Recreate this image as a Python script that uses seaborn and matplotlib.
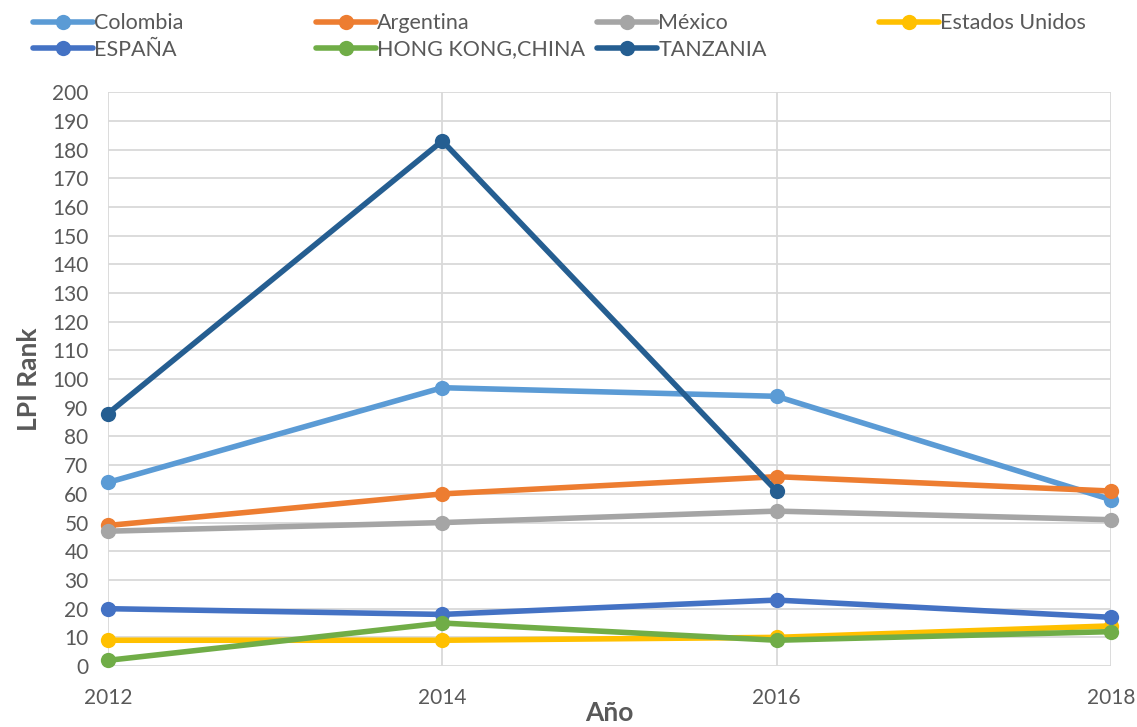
import pandas as pd
import numpy as np
import matplotlib
matplotlib.use("Agg")
import matplotlib.pyplot as plt
import seaborn as sns

# Data
years = [2012, 2014, 2016, 2018]
colombia = [64, 97, 94, 58]
argentina = [49, 60, 66, 61]
mexico = [47, 50, 54, 51]
estados_unidos = [9, 9, 10, 14]
espana = [20, 18, 23, 17]
hong_kong = [2, 15, 9, 12]
tanzania = [88, 183, 61, np.nan]

countries = ["Colombia", "Argentina", "México", "Estados Unidos",
             "ESPAÑA", "HONG KONG,CHINA", "TANZANIA"]
series = [colombia, argentina, mexico, estados_unidos, espana, hong_kong, tanzania]
colors = ["#5B9BD5", "#ED7D31", "#A5A5A5", "#FFC000",
          "#4472C4", "#70AD47", "#255E91"]

rows = []
for name, vals in zip(countries, series):
    for yr, v in zip(years, vals):
        rows.append({"Año": yr, "LPI Rank": v, "País": name})
df = pd.DataFrame(rows).dropna()

sns.set_style("whitegrid", {"grid.color": "#D9D9D9"})
plt.rcParams["font.family"] = ["Lato", "DejaVu Sans"]

fig = plt.figure(figsize=(11.37, 7.27), dpi=100)
ax = fig.add_axes([0.095, 0.0838, 0.882, 0.7895])

sns.lineplot(data=df, x="Año", y="LPI Rank", hue="País", hue_order=countries,
             palette=colors, marker="o", markersize=11, linewidth=4,
             markeredgewidth=0, ax=ax, legend=False)
for line in ax.lines:
    line.set_clip_on(False)

ax.set_xlim(2012, 2018)
ax.set_ylim(0, 200)
ax.set_xticks(years)
ax.set_yticks(range(0, 201, 10))
ax.tick_params(axis="both", labelsize=15, colors="#595959", length=0)
ax.tick_params(axis="y", pad=14)
ax.tick_params(axis="x", pad=16)
ax.grid(True, color="#D9D9D9", linewidth=1.3)
for s in ax.spines.values():
    s.set_visible(False)

ax.set_xlabel("Año", fontsize=19, fontweight="bold", color="#595959", labelpad=-5)
ax.set_ylabel("LPI Rank", fontsize=19, fontweight="bold", color="#595959", labelpad=8)

# legend: 4 evenly spaced columns, one small legend per column
handles = [plt.Line2D([0], [0], color=c, lw=4, marker="o", markersize=11,
                      markeredgewidth=0) for c in colors]
col_x = [33, 316, 597, 879]
for j, x in enumerate(col_x):
    idx = [i for i in (j, j + 4) if i < len(countries)]
    leg = fig.legend([handles[i] for i in idx], [countries[i] for i in idx],
                     loc="upper left", bbox_to_anchor=(x / 1137, 0.982),
                     frameon=False, fontsize=15.5, handlelength=2.8,
                     handletextpad=0.05, labelcolor="#595959", borderpad=0,
                     borderaxespad=0, labelspacing=0.3)

fig.savefig("out.png", dpi=100)
